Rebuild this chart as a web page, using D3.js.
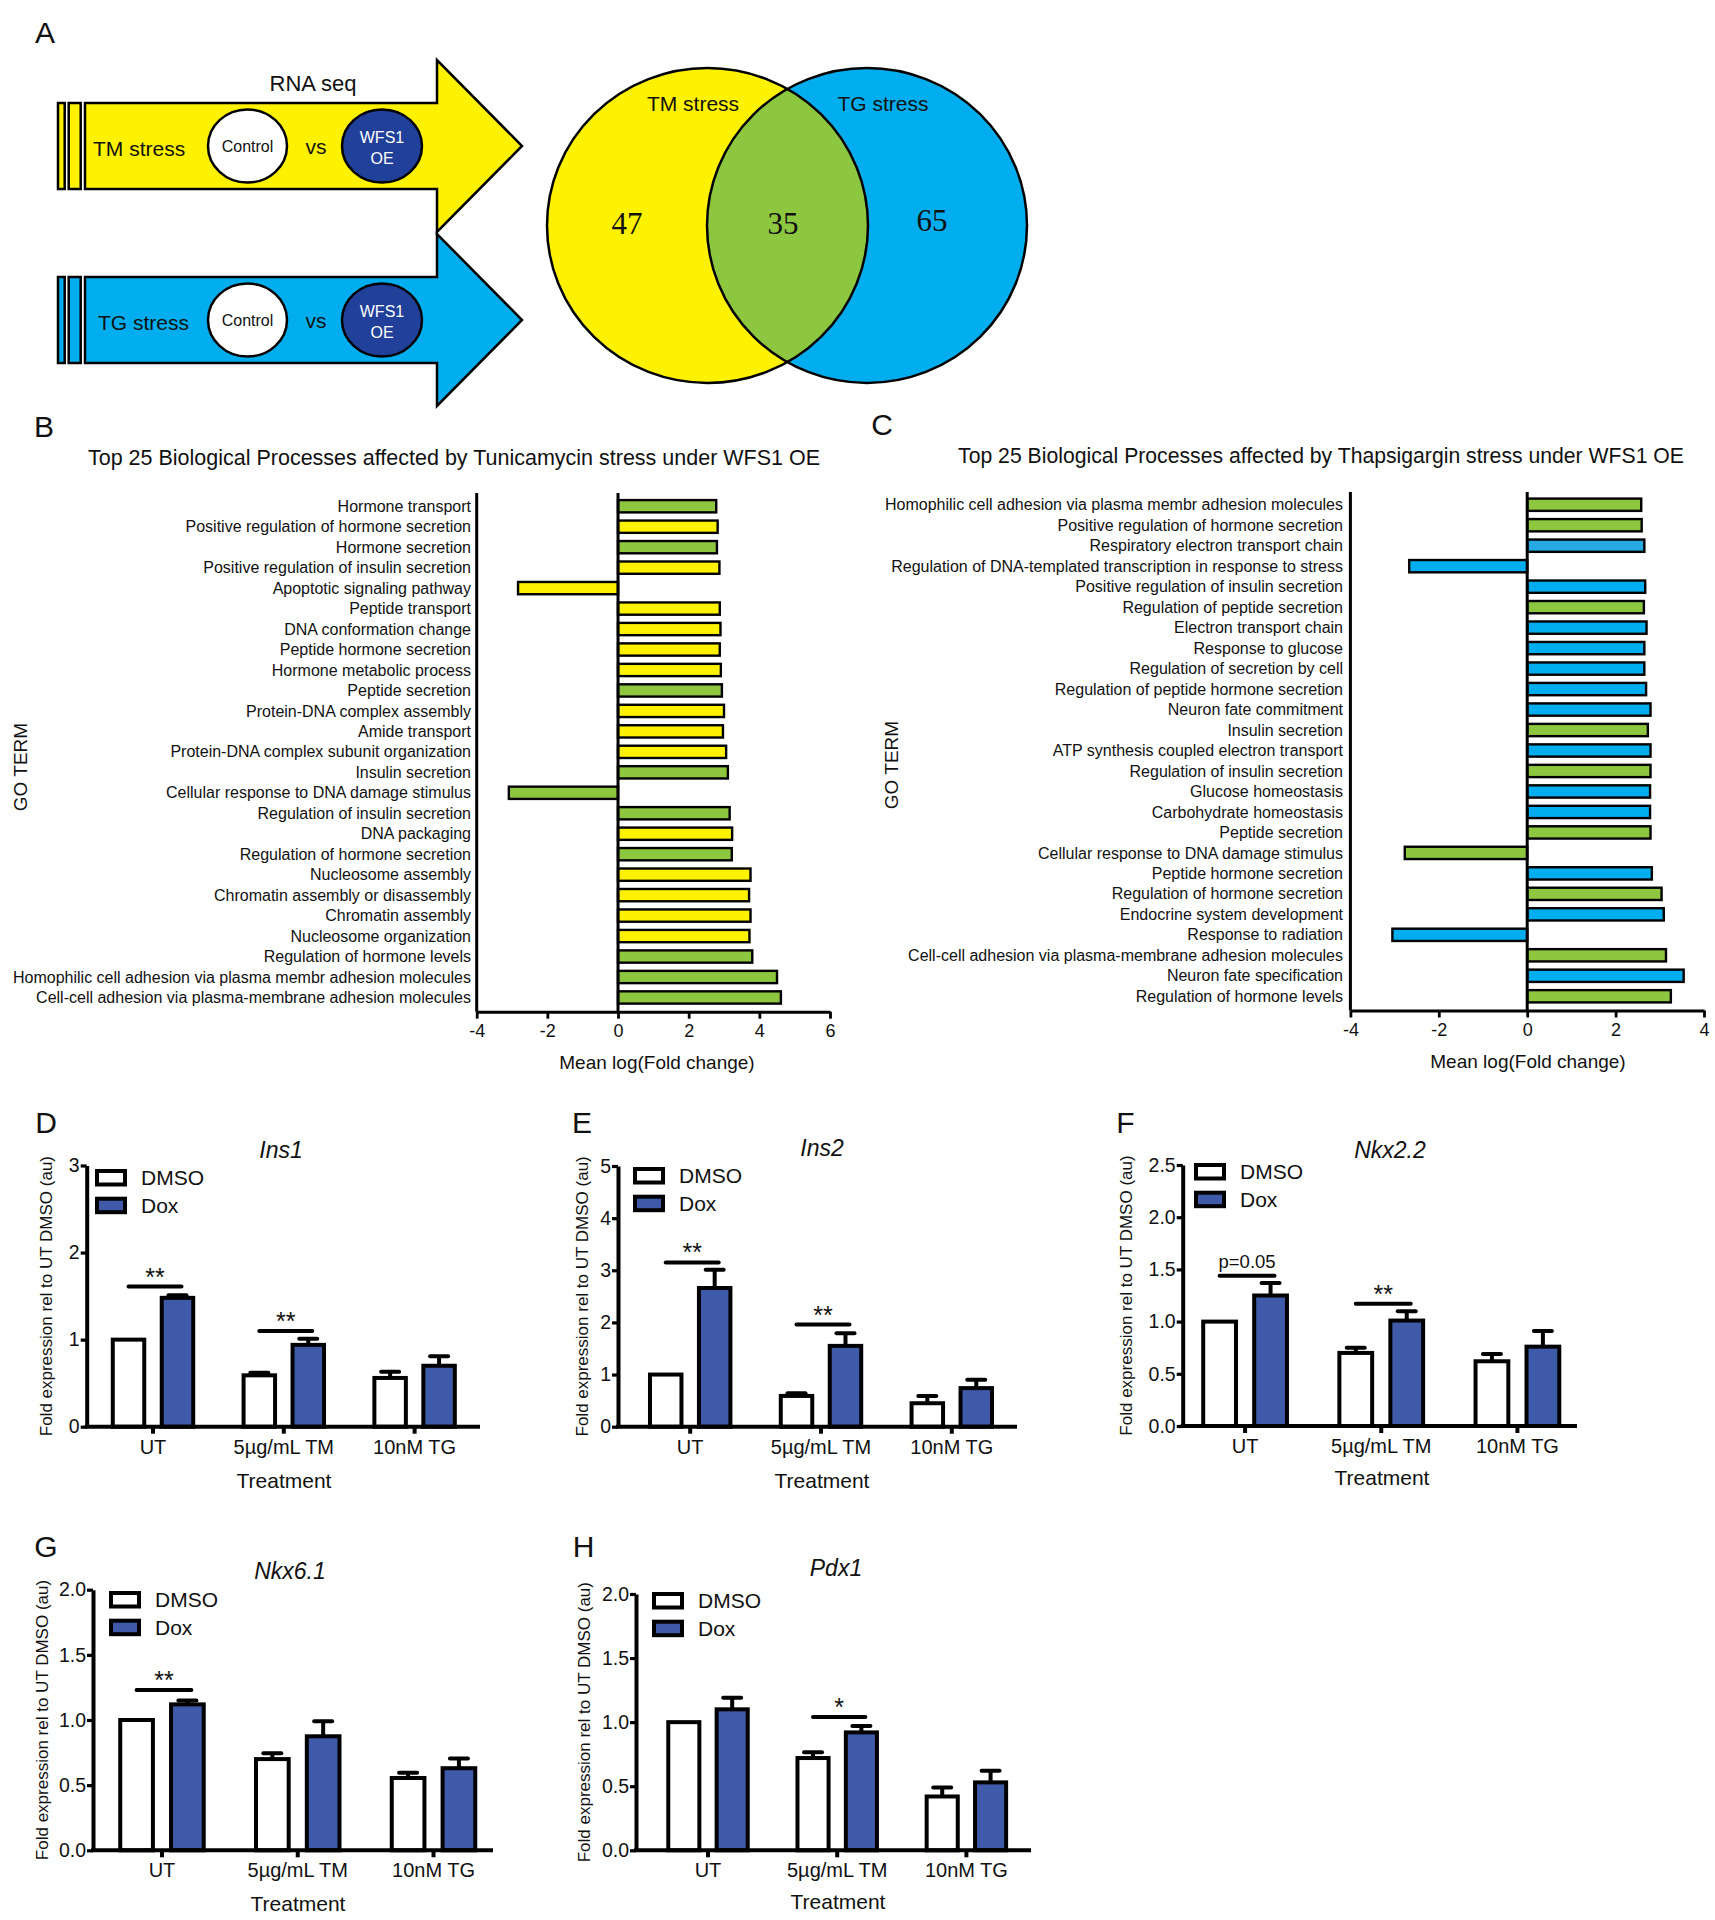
<!DOCTYPE html>
<html><head><meta charset="utf-8">
<script src="https://cdn.jsdelivr.net/npm/d3@7"></script>
<style>
html,body{margin:0;padding:0;background:#fff;}
svg{display:block;}
text{font-family:"Liberation Sans",Arial,Helvetica,sans-serif;fill:#111;}
</style></head><body>
<svg id="fig" width="1715" height="1920"></svg>
<script>
// ---------------- DATA ----------------
const vennSets = ["TM stress", "TG stress"];
const vennCounts = [47, 35, 65];           // TM only, shared, TG only
const compareLeft = "Control";
const compareRight = ["WFS1", "OE"];

const tmTitle = "Top 25 Biological Processes affected by Tunicamycin stress under WFS1 OE";
const tmTerms = [
  "Hormone transport","Positive regulation of hormone secretion","Hormone secretion",
  "Positive regulation of insulin secretion","Apoptotic signaling pathway","Peptide transport",
  "DNA conformation change","Peptide hormone secretion","Hormone metabolic process",
  "Peptide secretion","Protein-DNA complex assembly","Amide transport",
  "Protein-DNA complex subunit organization","Insulin secretion",
  "Cellular response to DNA damage stimulus","Regulation of insulin secretion","DNA packaging",
  "Regulation of hormone secretion","Nucleosome assembly","Chromatin assembly or disassembly",
  "Chromatin assembly","Nucleosome organization","Regulation of hormone levels",
  "Homophilic cell adhesion via plasma membr adhesion molecules",
  "Cell-cell adhesion via plasma-membrane adhesion molecules"];
const tmValues = [2.78,2.82,2.80,2.87,-2.83,2.88,2.90,2.88,2.91,2.94,3.00,2.97,3.06,3.11,-3.09,3.16,3.23,3.22,3.75,3.71,3.75,3.72,3.80,4.50,4.61];
const tmClass = ["shared","tm","shared","tm","tm","tm","tm","tm","tm","shared","tm","tm","tm","shared","shared","shared","tm","shared","tm","tm","tm","tm","shared","shared","shared"];

const tgTitle = "Top 25 Biological Processes affected by Thapsigargin stress under WFS1 OE";
const tgTerms = [
  "Homophilic cell adhesion via plasma membr adhesion molecules","Positive regulation of hormone secretion",
  "Respiratory electron transport chain","Regulation of DNA-templated transcription in response to stress",
  "Positive regulation of insulin secretion","Regulation of peptide secretion","Electron transport chain",
  "Response to glucose","Regulation of secretion by cell","Regulation of peptide hormone secretion",
  "Neuron fate commitment","Insulin secretion","ATP synthesis coupled electron transport",
  "Regulation of insulin secretion","Glucose homeostasis","Carbohydrate homeostasis","Peptide secretion",
  "Cellular response to DNA damage stimulus","Peptide hormone secretion","Regulation of hormone secretion",
  "Endocrine system development","Response to radiation",
  "Cell-cell adhesion via plasma-membrane adhesion molecules","Neuron fate specification",
  "Regulation of hormone levels"];
const tgValues = [2.58,2.59,2.65,-2.67,2.67,2.64,2.70,2.65,2.65,2.69,2.79,2.73,2.79,2.79,2.78,2.78,2.79,-2.77,2.82,3.04,3.09,-3.05,3.14,3.54,3.25];
const tgClass = ["shared","shared","tg2","tg","tg","shared","tg","tg","tg","tg","tg","shared","tg","shared","tg","tg","shared","shared","tg","shared","tg","tg","shared","tg","shared"];

const goTicksB = [-4,-2,0,2,4,6];
const goTicksC = [-4,-2,0,2,4];
const goAxisLabel = "Mean log(Fold change)";
const goYLabel = "GO TERM";

const treatments = ["UT","5µg/mL TM","10nM TG"];
const conditions = ["DMSO","Dox"];
const qYLabel = "Fold expression rel to UT DMSO (au)";
const qXLabel = "Treatment";

const ins1DMSO = [1.00,0.59,0.56], ins1DMSOErr = [0,0.03,0.07];
const ins1Dox  = [1.48,0.94,0.70], ins1DoxErr  = [0.03,0.07,0.11];
const ins1Sig  = [["UT",1.61,"**"],["5µg/mL TM",1.10,"**"]];
const ins1Ticks = [0,1,2,3];

const ins2DMSO = [1.00,0.59,0.45], ins2DMSOErr = [0,0.05,0.14];
const ins2Dox  = [2.66,1.55,0.74], ins2DoxErr  = [0.35,0.24,0.16];
const ins2Sig  = [["UT",3.15,"**"],["5µg/mL TM",1.96,"**"]];
const ins2Ticks = [0,1,2,3,4,5];

const nkx22DMSO = [1.00,0.70,0.62], nkx22DMSOErr = [0,0.05,0.07];
const nkx22Dox  = [1.25,1.01,0.76], nkx22DoxErr  = [0.12,0.09,0.15];
const nkx22Sig  = [["UT",1.44,"p=0.05"],["5µg/mL TM",1.17,"**"]];
const nkx22Ticks = [0,0.5,1.0,1.5,2.0,2.5];

const nkx61DMSO = [1.00,0.70,0.555], nkx61DMSOErr = [0,0.045,0.04];
const nkx61Dox  = [1.12,0.875,0.63], nkx61DoxErr  = [0.03,0.115,0.075];
const nkx61Sig  = [["UT",1.23,"**"]];
const nkx61Ticks = [0,0.5,1.0,1.5,2.0];

const pdx1DMSO = [1.00,0.72,0.42], pdx1DMSOErr = [0,0.045,0.07];
const pdx1Dox  = [1.10,0.92,0.53], pdx1DoxErr  = [0.09,0.05,0.09];
const pdx1Sig  = [["5µg/mL TM",1.04,"*"]];
const pdx1Ticks = [0,0.5,1.0,1.5,2.0];

// ---------------- STYLE ----------------
const YELLOW = "#FFF200", GREEN = "#8DC63F", CYAN = "#00AEEF", CYAN2 = "#27A9E1", NAVY = "#21409A", DOX = "#3F5AA8";
const classColor = d3.scaleOrdinal().domain(["tm","shared","tg","tg2"]).range([YELLOW, GREEN, CYAN, CYAN2]);
const condColor = d3.scaleOrdinal().domain(conditions).range(["#ffffff", DOX]);

const svg = d3.select("#fig");
function label(g, x, y, s, size, opts = {}) {
  const t = g.append("text").attr("x", x).attr("y", y).text(s)
    .style("font-size", size + "px").attr("text-anchor", opts.anchor || "middle");
  if (opts.fill) t.style("fill", opts.fill);
  if (opts.italic) t.style("font-style", "italic");
  if (opts.family) t.style("font-family", opts.family);
  return t;
}
function letter(s, x, cy) { label(svg, x, cy + 10.7, s, 30); }

// ---------------- PANEL A ----------------
letter("A", 45, 32);
const gA = svg.append("g");
const arrows = [
  {name: "TM stress", fill: YELLOW, cy: 146},
  {name: "TG stress", fill: CYAN, cy: 320}
];
arrows.forEach((a, i) => {
  const cy = a.cy;
  [[58, 6.7], [68.7, 12]].forEach(([x, w]) => gA.append("rect").attr("x", x).attr("y", cy - 43)
    .attr("width", w).attr("height", 86).attr("fill", a.fill).attr("stroke", "#000").attr("stroke-width", 2.5));
  const pts = [[85, cy - 43], [437, cy - 43], [437, cy - 86], [522, cy], [437, cy + 86], [437, cy + 43], [85, cy + 43]];
  gA.append("polygon").attr("points", pts.map(p => p.join(",")).join(" "))
    .attr("fill", a.fill).attr("stroke", "#000").attr("stroke-width", 2.5).attr("stroke-linejoin", "miter");
  label(gA, 93 + (i ? 5 : 0), cy + 2 + 7.5, a.name, 21, {anchor: "start"});
  gA.append("ellipse").attr("cx", 247.5).attr("cy", cy).attr("rx", 39.5).attr("ry", 36.5)
    .attr("fill", "#fff").attr("stroke", "#000").attr("stroke-width", 2.5);
  label(gA, 247.5, cy + 5.5, compareLeft, 16);
  label(gA, 316, cy + 2 + 6, "vs", 21);
  gA.append("ellipse").attr("cx", 382).attr("cy", cy).attr("rx", 40).attr("ry", 36.5)
    .attr("fill", NAVY).attr("stroke", "#000").attr("stroke-width", 2.5);
  label(gA, 382, cy - 9 + 5.7, compareRight[0], 16, {fill: "#fff"});
  label(gA, 382, cy + 12 + 5.7, compareRight[1], 16, {fill: "#fff"});
});
label(gA, 313, 83 + 7.5, "RNA seq", 22);

// Venn
const vY = {cx: 707.5, cy: 225.5, rx: 160.5, ry: 157.5};
const vB = {cx: 867, cy: 225.5, rx: 160, ry: 157.5};
const defs = svg.append("defs");
defs.append("clipPath").attr("id", "clipB").append("ellipse")
  .attr("cx", vB.cx).attr("cy", vB.cy).attr("rx", vB.rx).attr("ry", vB.ry);
const ell = (g, e) => g.append("ellipse").attr("cx", e.cx).attr("cy", e.cy).attr("rx", e.rx).attr("ry", e.ry);
ell(gA, vY).attr("fill", YELLOW);
ell(gA, vB).attr("fill", CYAN);
ell(gA, vY).attr("fill", GREEN).attr("clip-path", "url(#clipB)");
ell(gA, vY).attr("fill", "none").attr("stroke", "#000").attr("stroke-width", 2.5);
ell(gA, vB).attr("fill", "none").attr("stroke", "#000").attr("stroke-width", 2.5);
label(gA, 693, 103 + 7.5, vennSets[0], 21);
label(gA, 883, 103 + 7.5, vennSets[1], 21);
const serif = '"Liberation Serif","Times New Roman",serif';
[[627, 223], [783, 223], [932, 220]].forEach(([x, y], i) =>
  label(gA, x, y + 10.5, vennCounts[i], 31, {family: serif}));

// ---------------- PANELS B, C ----------------
function goPanel(cfg, terms, values, classes, ticks, title) {
  const g = svg.append("g");
  letter(cfg.letter, cfg.letterX, cfg.letterY);
  label(g, cfg.titleX, cfg.titleY + 7.5, title, cfg.titleSize);
  const x = d3.scaleLinear().domain(cfg.domain).range([cfg.x0, cfg.x1]);
  const idx = terms.map((d, i) => i);
  const y = d3.scaleBand().domain(idx).range(cfg.band).paddingInner(0.4).paddingOuter(0.2);
  g.selectAll("rect.bar").data(idx).join("rect").attr("class", "bar")
    .attr("x", i => x(Math.min(0, values[i])))
    .attr("width", i => Math.abs(x(values[i]) - x(0)))
    .attr("y", i => y(i)).attr("height", y.bandwidth())
    .attr("fill", i => classColor(classes[i])).attr("stroke", "#000").attr("stroke-width", 2.4);
  g.selectAll("text.term").data(idx).join("text").attr("class", "term")
    .attr("x", cfg.labelX).attr("y", i => y(i) + y.bandwidth() / 2 + 5.6)
    .attr("text-anchor", "end").style("font-size", "16px").text(i => terms[i]);
  g.append("line").attr("x1", x(0)).attr("x2", x(0)).attr("y1", cfg.yTop).attr("y2", cfg.yBottom)
    .attr("stroke", "#000").attr("stroke-width", 3);
  g.append("line").attr("x1", cfg.x0).attr("x2", cfg.x0).attr("y1", cfg.yTop).attr("y2", cfg.yBottom)
    .attr("stroke", "#000").attr("stroke-width", 3);
  const ax = g.append("g").attr("transform", `translate(0,${cfg.yBottom})`)
    .call(d3.axisBottom(x).tickValues(ticks).tickSize(7).tickSizeOuter(0).tickPadding(6).tickFormat(d => String(d)));
  ax.select(".domain").attr("stroke-width", 3);
  ax.selectAll(".tick line").attr("stroke-width", 2.8);
  ax.selectAll(".tick text").style("font-size", "18px").style("font-family", null).attr("fill", "#111");
  label(g, cfg.xLabelX, cfg.xLabelY + 7, goAxisLabel, 19);
  g.append("text").attr("transform", `translate(${cfg.goX + 7},${cfg.goY}) rotate(-90)`)
    .attr("text-anchor", "middle").style("font-size", "19px").text(goYLabel);
}
goPanel({letter: "B", letterX: 44, letterY: 426, titleX: 454, titleY: 457, titleSize: 21.5, domain: [-4, 6], x0: 476.7, x1: 830,
  band: [496, 1007.7], yTop: 493, yBottom: 1011.7, labelX: 471, xLabelX: 657, xLabelY: 1062, goX: 20, goY: 767},
  tmTerms, tmValues, tmClass, goTicksB, tmTitle);
goPanel({letter: "C", letterX: 882, letterY: 424, titleX: 1321, titleY: 455, titleSize: 21.2, domain: [-4, 4], x0: 1350.4, x1: 1704,
  band: [494.5, 1006.5], yTop: 492, yBottom: 1010.5, labelX: 1343, xLabelX: 1528, xLabelY: 1061, goX: 891, goY: 765},
  tgTerms, tgValues, tgClass, goTicksC, tgTitle);

// ---------------- PANELS D-H ----------------
function barPanel(cfg, gene, dmso, dmsoErr, dox, doxErr, sig, ticks) {
  const g = svg.append("g");
  const SW = 4;
  letter(cfg.letter, cfg.letterX, cfg.letterY);
  label(g, cfg.titleX, cfg.titleY + 8, gene, 23, {italic: true});
  const x = d3.scaleBand().domain(treatments).range(cfg.band).paddingInner(0.385).paddingOuter(0.1925);
  const xs = d3.scaleBand().domain(conditions).range([0, x.bandwidth()]).paddingInner(0.357);
  const y = d3.scaleLinear().domain([0, ticks[ticks.length - 1]]).range(cfg.yPx);
  const rows = [];
  treatments.forEach((t, i) => {
    rows.push({t, c: "DMSO", v: dmso[i], e: dmsoErr[i]});
    rows.push({t, c: "Dox", v: dox[i], e: doxErr[i]});
  });
  const cx = d => x(d.t) + xs(d.c) + xs.bandwidth() / 2;
  const eb = rows.filter(d => d.e > 0);
  g.selectAll("line.err").data(eb).join("line").attr("class", "err")
    .attr("x1", cx).attr("x2", cx).attr("y1", d => y(d.v)).attr("y2", d => y(d.v + d.e))
    .attr("stroke", "#000").attr("stroke-width", SW);
  g.selectAll("line.cap").data(eb).join("line").attr("class", "cap")
    .attr("x1", d => cx(d) - 9).attr("x2", d => cx(d) + 9).attr("y1", d => y(d.v + d.e)).attr("y2", d => y(d.v + d.e))
    .attr("stroke", "#000").attr("stroke-width", SW).attr("stroke-linecap", "round");
  g.selectAll("rect.bar").data(rows).join("rect").attr("class", "bar")
    .attr("x", d => x(d.t) + xs(d.c)).attr("width", xs.bandwidth())
    .attr("y", d => y(d.v)).attr("height", d => y(0) - y(d.v))
    .attr("fill", d => condColor(d.c)).attr("stroke", "#000").attr("stroke-width", SW);
  sig.forEach(([t, v, s]) => {
    const x1 = x(t) + xs("DMSO") + xs.bandwidth() / 2, x2 = x(t) + xs("Dox") + xs.bandwidth() / 2 + 4;
    g.append("line").attr("x1", x1).attr("x2", x2).attr("y1", y(v)).attr("y2", y(v))
      .attr("stroke", "#000").attr("stroke-width", SW).attr("stroke-linecap", "round");
    const isP = s.startsWith("p");
    label(g, (x1 + x2) / 2, y(v) - (isP ? 7.4 : 1), s, isP ? 18.5 : 25);
  });
  const yAx = g.append("g").attr("transform", `translate(${cfg.axisX[0]},0)`)
    .call(d3.axisLeft(y).tickValues(ticks).tickSize(6).tickSizeOuter(0).tickPadding(1)
      .tickFormat(d3.format(cfg.fmt)));
  yAx.select(".domain").attr("stroke-width", SW);
  yAx.selectAll(".tick line").attr("stroke-width", 3.2);
  yAx.selectAll(".tick text").style("font-size", "19.5px").style("font-family", null).attr("fill", "#111");
  const xAx = g.append("g").attr("transform", `translate(0,${cfg.yPx[0]})`)
    .call(d3.axisBottom(x).tickSize(7).tickSizeOuter(0).tickPadding(6));
  xAx.select(".domain").remove();
  xAx.selectAll(".tick line").attr("stroke-width", SW);
  xAx.selectAll(".tick text").style("font-size", "20px").style("font-family", null).attr("fill", "#111");
  g.append("line").attr("x1", cfg.axisX[0] - SW / 2).attr("x2", cfg.axisX[1]).attr("y1", cfg.yPx[0]).attr("y2", cfg.yPx[0])
    .attr("stroke", "#000").attr("stroke-width", SW);
  label(g, cfg.treat[0], cfg.treat[1] + 7.5, qXLabel, 21);
  g.append("text").attr("transform", `translate(${cfg.ylabelX + 6},${(cfg.yPx[0] + cfg.yPx[1]) / 2}) rotate(-90)`)
    .attr("text-anchor", "middle").style("font-size", "17px").text(qYLabel);
  conditions.forEach((c, i) => {
    const ly = cfg.legend[1] + i * 27.7;
    g.append("rect").attr("x", cfg.legend[0] + SW / 2).attr("y", ly + SW / 2).attr("width", 28).attr("height", 13.5)
      .attr("fill", condColor(c)).attr("stroke", "#000").attr("stroke-width", SW);
    label(g, cfg.legend[0] + 46, ly + 8.7 + 7.5, c, 21, {anchor: "start"});
  });
}
barPanel({letter: "D", letterX: 46, letterY: 1122, titleX: 281, titleY: 1150, axisX: [86.7, 480], yPx: [1426.7, 1165.5],
  fmt: "d", band: [87.6, 480], legend: [95, 1169], ylabelX: 46, treat: [284, 1480]},
  "Ins1", ins1DMSO, ins1DMSOErr, ins1Dox, ins1DoxErr, ins1Sig, ins1Ticks);
barPanel({letter: "E", letterX: 582, letterY: 1122, titleX: 822, titleY: 1148, axisX: [618, 1017], yPx: [1426.7, 1166],
  fmt: "d", band: [624.8, 1017.2], legend: [633, 1167], ylabelX: 582, treat: [822, 1480]},
  "Ins2", ins2DMSO, ins2DMSOErr, ins2Dox, ins2DoxErr, ins2Sig, ins2Ticks);
barPanel({letter: "F", letterX: 1125.5, letterY: 1122, titleX: 1390, titleY: 1150, axisX: [1182.7, 1577], yPx: [1426, 1165],
  fmt: ".1f", band: [1177, 1585.5], legend: [1194, 1163], ylabelX: 1125.5, treat: [1382, 1477]},
  "Nkx2.2", nkx22DMSO, nkx22DMSOErr, nkx22Dox, nkx22DoxErr, nkx22Sig, nkx22Ticks);
barPanel({letter: "G", letterX: 46, letterY: 1546, titleX: 290, titleY: 1571, axisX: [93, 493], yPx: [1850.3, 1589.7],
  fmt: ".1f", band: [94.1, 501.4], legend: [109, 1591], ylabelX: 42, treat: [298, 1903]},
  "Nkx6.1", nkx61DMSO, nkx61DMSOErr, nkx61Dox, nkx61DoxErr, nkx61Sig, nkx61Ticks);
barPanel({letter: "H", letterX: 583.5, letterY: 1546, titleX: 836, titleY: 1568, axisX: [636, 1031], yPx: [1850.3, 1594],
  fmt: ".1f", band: [643.4, 1031], legend: [652, 1592], ylabelX: 583.5, treat: [838, 1901]},
  "Pdx1", pdx1DMSO, pdx1DMSOErr, pdx1Dox, pdx1DoxErr, pdx1Sig, pdx1Ticks);
</script></body></html>
